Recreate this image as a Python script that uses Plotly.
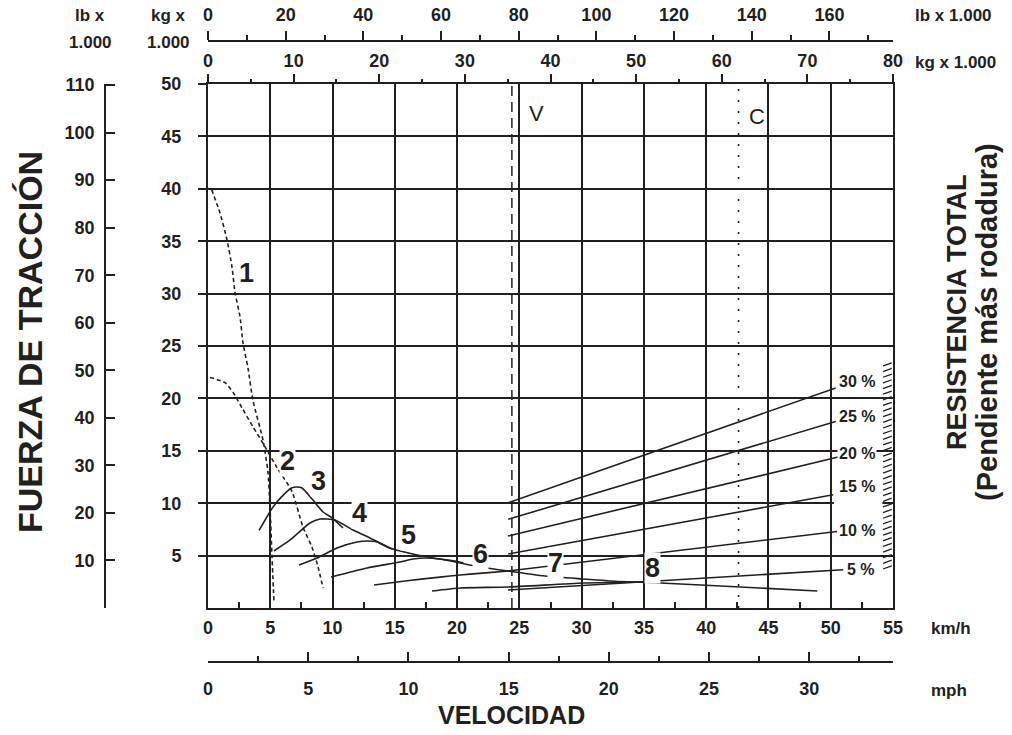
import numpy as np
import plotly.graph_objects as go

ANCHO, ALTO = 1012, 735
NEGRO = '#231f20'
FUENTE = 'Liberation Sans, Arial, Helvetica, sans-serif'

# escalas: velocidad en km/h, fuerza en kg x 1.000
VEL_MAX = 55
F_MAX = 50
KG_A_LB = 2.20462
KMH_A_MPH = 1 / 1.609344

# --- curvas de fuerza de tracción ---
c1_v = [0.3, 0.96, 1.53, 1.93, 2.17, 2.57, 2.81, 3.21, 3.61, 4.42, 4.82, 4.98, 5.14, 5.30]
c1_f = [39.9, 37.7, 35.1, 32.5, 30.1, 27.8, 25.3, 22.9, 19.8, 16.0, 12.9, 9.6, 4.9, 0.5]

c2_v = [0.16, 1.37, 2.0, 2.73, 3.61, 4.42, 5.54, 6.75, 7.63, 8.35, 8.84, 9.24]
c2_f = [22.0, 21.5, 20.6, 19.1, 17.3, 15.7, 13.4, 11.1, 7.7, 5.8, 3.9, 1.9]

c3_v = [4.1, 5.2, 5.9, 6.7, 7.15, 7.55, 8.43, 9.24, 9.96, 10.84]
c3_f = [7.4, 9.6, 10.6, 11.45, 11.55, 11.45, 10.3, 9.16, 8.6, 7.63]

c4_v = [5.3, 6.59, 8.19, 9.0, 9.56, 10.2, 11.65, 13.0, 14.78]
c4_f = [5.44, 6.49, 8.11, 8.49, 8.49, 8.40, 7.44, 6.68, 5.63]

c5_v = [7.31, 8.76, 10.36, 11.97, 12.77, 13.57, 14.38, 15.42, 18.07, 18.63, 21.45,
        24.10, 27.07, 30.12, 33.09, 36.31, 42.73, 48.92]
c5_f = [4.10, 4.77, 5.73, 6.30, 6.39, 6.30, 5.82, 5.44, 4.77, 4.68, 4.01,
        3.53, 3.05, 2.77, 2.53, 2.39, 2.00, 1.62]

c6_v = [9.88, 12.77, 15.42, 16.47, 17.59, 19.84, 20.5]
c6_f = [2.96, 3.82, 4.39, 4.68, 4.77, 4.48, 4.3]

c7_v = [13.33, 16.0, 18.63, 20.24, 22.3, 24.1]
c7_f = [2.19, 2.6, 2.95, 3.15, 3.35, 3.53]

c8_v = [17.99, 20.24, 24.10, 30.12, 34.94, 35.5]
c8_f = [1.62, 1.91, 2.00, 2.39, 2.48, 2.5]

# etiquetas de las curvas (posición km/h, kg x 1.000)
etiq_txt = ['1', '2', '3', '4', '5', '6', '7', '8']
etiq_v = [3.13, 6.4, 8.9, 12.13, 16.06, 21.85, 27.87, 35.66]
etiq_f = [31.97, 14.0, 12.15, 9.06, 6.96, 5.15, 4.29, 3.82]

# --- rectas de resistencia total (pendiente + rodadura) ---
pend_txt = ['30 %', '25 %', '20 %', '15 %', '10 %', '5 %']
pend_v0 = [24.1, 24.1, 24.1, 24.1, 24.1, 24.1]
pend_f0 = [10.05, 8.46, 6.87, 5.15, 3.53, 1.72]
pend_v1 = [50.4, 50.4, 50.6, 50.2, 50.5, 51.0]
pend_f1 = [21.0, 17.8, 14.4, 10.8, 7.3, 3.65]
pend_etiq_f = [21.66, 18.32, 14.79, 11.55, 7.44, 3.72]

VEL_V = 24.4
VEL_C = 42.6

# escala de pendiente pintada en el borde derecho
escala_pend = np.arange(5, 32.01, 0.75)


def px(x):
    return x / ANCHO


def py(y):
    return 1 - y / ALTO


DOM_X = [px(208), px(893)]
DOM_Y = [py(608), py(84)]

fig = go.Figure()

curvas = [(c1_v, c1_f, '4px,3px'), (c2_v, c2_f, '4px,3px'),
          (c3_v, c3_f, 'solid'), (c4_v, c4_f, 'solid'), (c5_v, c5_f, 'solid'),
          (c6_v, c6_f, 'solid'), (c7_v, c7_f, 'solid'), (c8_v, c8_f, 'solid')]
for v, f, estilo in curvas:
    fig.add_trace(go.Scatter(x=v, y=f, mode='lines',
                             line=dict(color=NEGRO, width=1.6, dash=estilo, shape='spline', smoothing=0.6),
                             showlegend=False, hoverinfo='skip'))

for i in range(len(pend_txt)):
    fig.add_trace(go.Scatter(x=[pend_v0[i], pend_v1[i]], y=[pend_f0[i], pend_f1[i]], mode='lines',
                             line=dict(color=NEGRO, width=1.6), showlegend=False, hoverinfo='skip'))

# líneas V y C
fig.add_trace(go.Scatter(x=[VEL_V, VEL_V], y=[0, F_MAX], mode='lines',
                         line=dict(color=NEGRO, width=1.5, dash='10px,6px'), showlegend=False, hoverinfo='skip'))
fig.add_trace(go.Scatter(x=[VEL_C, VEL_C], y=[0, F_MAX], mode='lines',
                         line=dict(color=NEGRO, width=1.6, dash='2px,9px'), showlegend=False, hoverinfo='skip'))

# marcas de pendiente junto al borde derecho
f_esc = 3.72 + (escala_pend - 5) * 0.7176
xs, ys = [], []
for f in f_esc:
    xs += [54.2, 54.9, None]
    ys += [f, f + 0.3, None]
fig.add_trace(go.Scatter(x=xs, y=ys, mode='lines', line=dict(color=NEGRO, width=1.3),
                         showlegend=False, hoverinfo='skip', cliponaxis=False))

# trazas vacías para que se dibujen los ejes secundarios
for xa, ya in [('x2', 'y'), ('x3', 'y'), ('x4', 'y'), ('x', 'y2')]:
    fig.add_trace(go.Scatter(x=[0], y=[0], xaxis=xa, yaxis=ya, mode='markers',
                             marker=dict(opacity=0), showlegend=False, hoverinfo='skip'))

fuente_ticks = dict(family=FUENTE, size=18, color=NEGRO, weight='bold')

fig.update_layout(
    width=ANCHO, height=ALTO, autosize=False,
    margin=dict(l=0, r=0, t=0, b=0, autoexpand=False),
    paper_bgcolor='white', plot_bgcolor='white',
    xaxis=dict(domain=DOM_X, range=[0, VEL_MAX], tickvals=list(range(0, 56, 5)),
               showgrid=True, gridcolor=NEGRO, gridwidth=2, zeroline=False,
               showline=True, linecolor=NEGRO, linewidth=2, mirror=True,
               ticks='inside', ticklen=6, tickcolor=NEGRO, tickwidth=1.5,
               minor=dict(dtick=2.5, ticks='inside', ticklen=6, tickcolor=NEGRO, tickwidth=1.5, showgrid=False),
               tickfont=fuente_ticks, ticklabelstandoff=2, automargin=False),
    yaxis=dict(domain=DOM_Y, range=[0, F_MAX], tickvals=list(range(5, 51, 5)),
               showgrid=True, gridcolor=NEGRO, gridwidth=2, zeroline=False,
               showline=True, linecolor=NEGRO, linewidth=2, mirror=True,
               ticks='outside', ticklen=8, tickcolor=NEGRO, tickwidth=2,
               tickfont=fuente_ticks, ticklabelstandoff=13, automargin=False),
    xaxis2=dict(overlaying='x', side='top', anchor='y', range=[0, 80],
                tickvals=list(range(0, 81, 10)), showgrid=False, zeroline=False, showline=False,
                ticks='outside', ticklen=9, tickcolor=NEGRO, tickwidth=1.5,
                minor=dict(dtick=5, ticks='outside', ticklen=4, tickcolor=NEGRO, tickwidth=1.5),
                tickfont=fuente_ticks, ticklabelstandoff=0, automargin=False),
    xaxis3=dict(overlaying='x', side='top', anchor='free', position=py(41),
                range=[0, 80 * KG_A_LB], tickvals=list(range(0, 161, 20)),
                showgrid=False, zeroline=False, showline=True, linecolor=NEGRO, linewidth=1.5,
                ticks='outside', ticklen=9, tickcolor=NEGRO, tickwidth=1.5,
                minor=dict(dtick=10, ticks='outside', ticklen=5, tickcolor=NEGRO, tickwidth=1.5),
                tickfont=fuente_ticks, ticklabelstandoff=3, automargin=False),
    xaxis4=dict(overlaying='x', side='bottom', anchor='free', position=py(662),
                range=[0, VEL_MAX * KMH_A_MPH], tickvals=list(range(0, 31, 5)),
                showgrid=False, zeroline=False, showline=True, linecolor=NEGRO, linewidth=1.5,
                ticks='inside', ticklen=9, tickcolor=NEGRO, tickwidth=1.5,
                minor=dict(dtick=2.5, ticks='inside', ticklen=5, tickcolor=NEGRO, tickwidth=1.5),
                tickfont=fuente_ticks, ticklabelstandoff=11, automargin=False),
    yaxis2=dict(overlaying='y', side='left', anchor='free', position=px(105),
                range=[0, F_MAX * KG_A_LB], tickvals=list(range(10, 111, 10)),
                showgrid=False, zeroline=False, showline=True, linecolor=NEGRO, linewidth=1.5,
                ticks='inside', ticklen=9, tickcolor=NEGRO, tickwidth=1.5,
                tickfont=fuente_ticks, ticklabelstandoff=6, automargin=False),
)

# tapa blanca sobre la línea de 10 junto a la etiqueta de 15 %
fig.add_shape(type='rect', xref='x', yref='y', x0=50.25, x1=54.15, y0=9.6, y1=10.4,
              fillcolor='white', line=dict(width=0), layer='above')

anots = []
for t, v, f in zip(etiq_txt, etiq_v, etiq_f):
    anots.append(dict(x=v, y=f, xref='x', yref='y', text=t, showarrow=False,
                      font=dict(family=FUENTE, size=27, color=NEGRO, weight='bold'),
                      bgcolor='white', borderpad=0))
for t, f in zip(pend_txt, pend_etiq_f):
    anots.append(dict(x=53.75, y=f, xref='x', yref='y', text=t, showarrow=False, xanchor='right',
                      font=dict(family=FUENTE, size=16, color=NEGRO, weight='bold'),
                      bgcolor='white', borderpad=1))
anots.append(dict(x=26.4, y=47.2, xref='x', yref='y', text='V', showarrow=False,
                  font=dict(family=FUENTE, size=22, color=NEGRO)))
anots.append(dict(x=44.1, y=46.9, xref='x', yref='y', text='C', showarrow=False,
                  font=dict(family=FUENTE, size=22, color=NEGRO)))

fuente_unid = dict(family=FUENTE, size=17, color=NEGRO, weight='bold')
for t, x, y, anc in [('lb x', 90, 15, 'center'), ('1.000', 90, 42, 'center'),
                     ('kg x', 168, 15, 'center'), ('1.000', 168, 42, 'center'),
                     ('lb x 1.000', 913, 15, 'left'), ('kg x 1.000', 913, 62, 'left'),
                     ('km/h', 929, 628, 'left'), ('mph', 929, 690, 'left')]:
    anots.append(dict(x=px(x), y=py(y), xref='paper', yref='paper', text=t, showarrow=False,
                      xanchor=anc, yanchor='middle', font=fuente_unid))

for t, x, y, tam, ang in [('FUERZA DE TRACCIÓN', 30, 342, 34, -90),
                          ('RESISTENCIA TOTAL', 957, 312, 27, -90),
                          ('(Pendiente más rodadura)', 987, 322, 29, -90),
                          ('VELOCIDAD', 512, 715, 25, 0)]:
    anots.append(dict(x=px(x), y=py(y), xref='paper', yref='paper', text=t, textangle=ang,
                      showarrow=False, xanchor='center', yanchor='middle',
                      font=dict(family=FUENTE, size=tam, color=NEGRO, weight='bold')))

fig.update_layout(annotations=anots)

# sin el margen por defecto del <body>, la figura ocupa toda la ventana
fig.write_html('out.html', config={'displayModeBar': False},
               post_script="document.body.style.margin='0';")
